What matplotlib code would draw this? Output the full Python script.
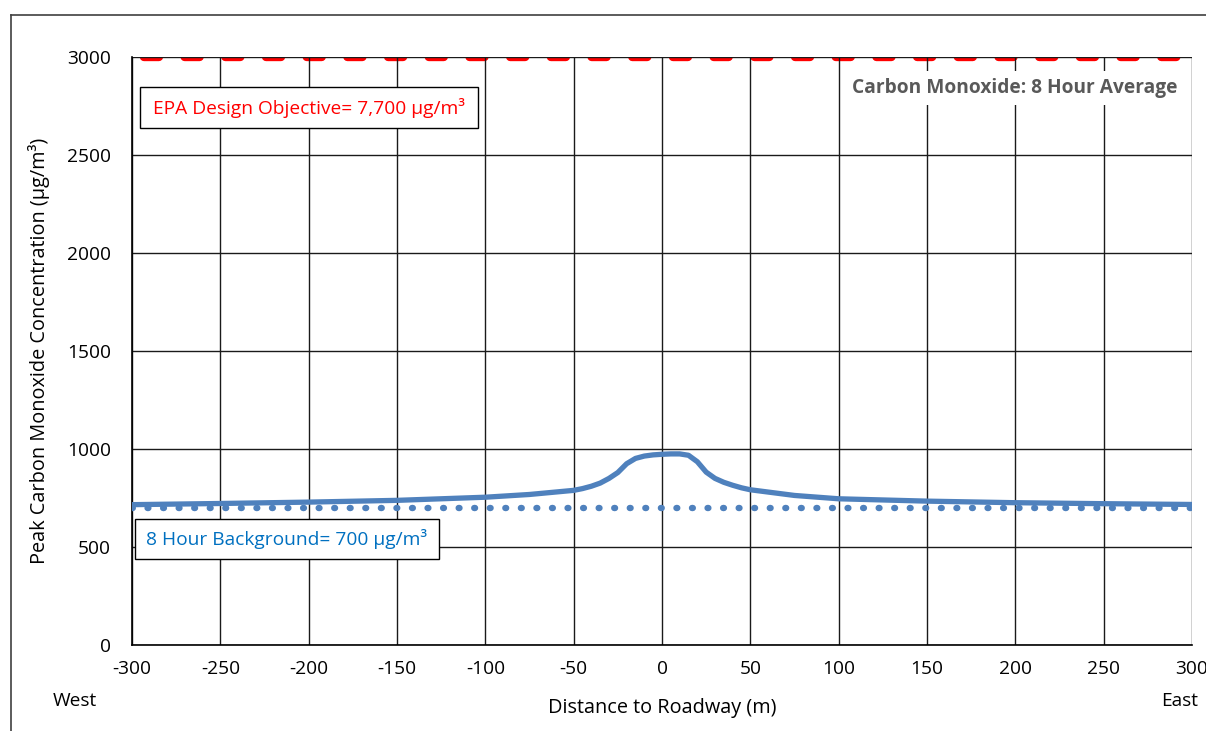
import numpy as np
import matplotlib.pyplot as plt
from matplotlib.patches import Rectangle
from matplotlib.lines import Line2D

plt.rcParams['font.family'] = ['Open Sans', 'DejaVu Sans']
plt.rcParams['lines.scale_dashes'] = False
plt.rcParams['axes.unicode_minus'] = False

# distance to roadway (m) and modelled peak CO (ug/m3)
dist = [-300, -250, -200, -150, -100, -75, -50, -45, -40, -35, -30, -25, -20, -15,
        -10, -5, 0, 5, 10, 15, 20, 25, 30, 35, 40, 45, 50, 75, 100, 150, 200, 250, 300]
conc = [716, 722, 729, 738, 754, 768, 789, 798, 810, 826, 850, 880, 925, 952,
        964, 970, 973, 975, 975, 968, 935, 882, 850, 830, 815, 802, 792, 763, 746,
        734, 726, 721, 717]
background = 700
objective_line = 3000
x_ticks = [-300, -250, -200, -150, -100, -50, 0, 50, 100, 150, 200, 250, 300]
y_ticks = [0, 500, 1000, 1500, 2000, 2500, 3000]

blue = '#4F81BD'
fs = 13.8

fig = plt.figure(figsize=(12.06, 7.31), dpi=100)
ax = fig.add_axes([132/1206, 1-645/731, 1060/1206, 588/731])

ax.plot(x_ticks[:1] + x_ticks[-1:], [background, background], color=blue, lw=4.6,
        linestyle=(0, (0.6, 10.6)), dash_capstyle='round', zorder=3)
ax.plot(dist, conc, color=blue, lw=3.8, solid_joinstyle='round', zorder=4)
ax.plot(x_ticks[:1] + x_ticks[-1:], [objective_line, objective_line], color='#FF0000',
        lw=6, linestyle=(20.7, (10.8, 18.5)), dash_capstyle='round', zorder=0.4)

ax.set_xlim(-300, 300)
ax.set_ylim(0, 3000)
ax.set_xticks(x_ticks)
ax.set_yticks(y_ticks)
ax.tick_params(length=0, labelsize=fs)
ax.tick_params(axis='x', pad=11)
ax.tick_params(axis='y', pad=15)
ax.grid(True, color='#1a1a1a', lw=1.0)
ax.set_axisbelow(True)
for s in ['top', 'right']:
    ax.spines[s].set_visible(False)
for s in ['left', 'bottom']:
    ax.spines[s].set_color('black')
    ax.spines[s].set_linewidth(1.2)

ax.set_xlabel('Distance to Roadway (m)', fontsize=14.3, labelpad=14)
ax.set_ylabel('Peak Carbon Monoxide Concentration (µg/m³)', fontsize=14.3, labelpad=12)

# text boxes
ax.add_patch(Rectangle((0.0075, 0.879), 0.319, 0.070, transform=ax.transAxes,
                       facecolor='white', edgecolor='black', lw=1.0, zorder=5))
ax.text(0.167, 0.914, 'EPA Design Objective= 7,700 µg/m³', transform=ax.transAxes,
        ha='center', va='center', color='#FF0000', fontsize=fs, zorder=6)
ax.add_patch(Rectangle((0.0028, 0.146), 0.287, 0.068, transform=ax.transAxes,
                       facecolor='white', edgecolor='black', lw=1.0, zorder=5))
ax.text(0.146, 0.180, '8 Hour Background= 700 µg/m³', transform=ax.transAxes,
        ha='center', va='center', color='#0070C0', fontsize=fs, zorder=6)
ax.text(0.986, 0.947, 'Carbon Monoxide: 8 Hour Average', transform=ax.transAxes,
        ha='right', va='center', color='#595959', fontsize=fs, fontweight='bold', zorder=6,
        bbox=dict(facecolor='white', edgecolor='none', pad=5))

fig.text(75/1206, 1-701/731, 'West', ha='center', va='center', fontsize=fs)
fig.text(1180/1206, 1-701/731, 'East', ha='center', va='center', fontsize=fs)

# outer chart border (partly cut off)
fig.add_artist(Line2D([11/1206, 11/1206], [0, 1-15/731], color='#404040', lw=1.2))
fig.add_artist(Line2D([11/1206, 1], [1-15/731, 1-15/731], color='#404040', lw=1.2))

fig.savefig('out.png', dpi=100)
